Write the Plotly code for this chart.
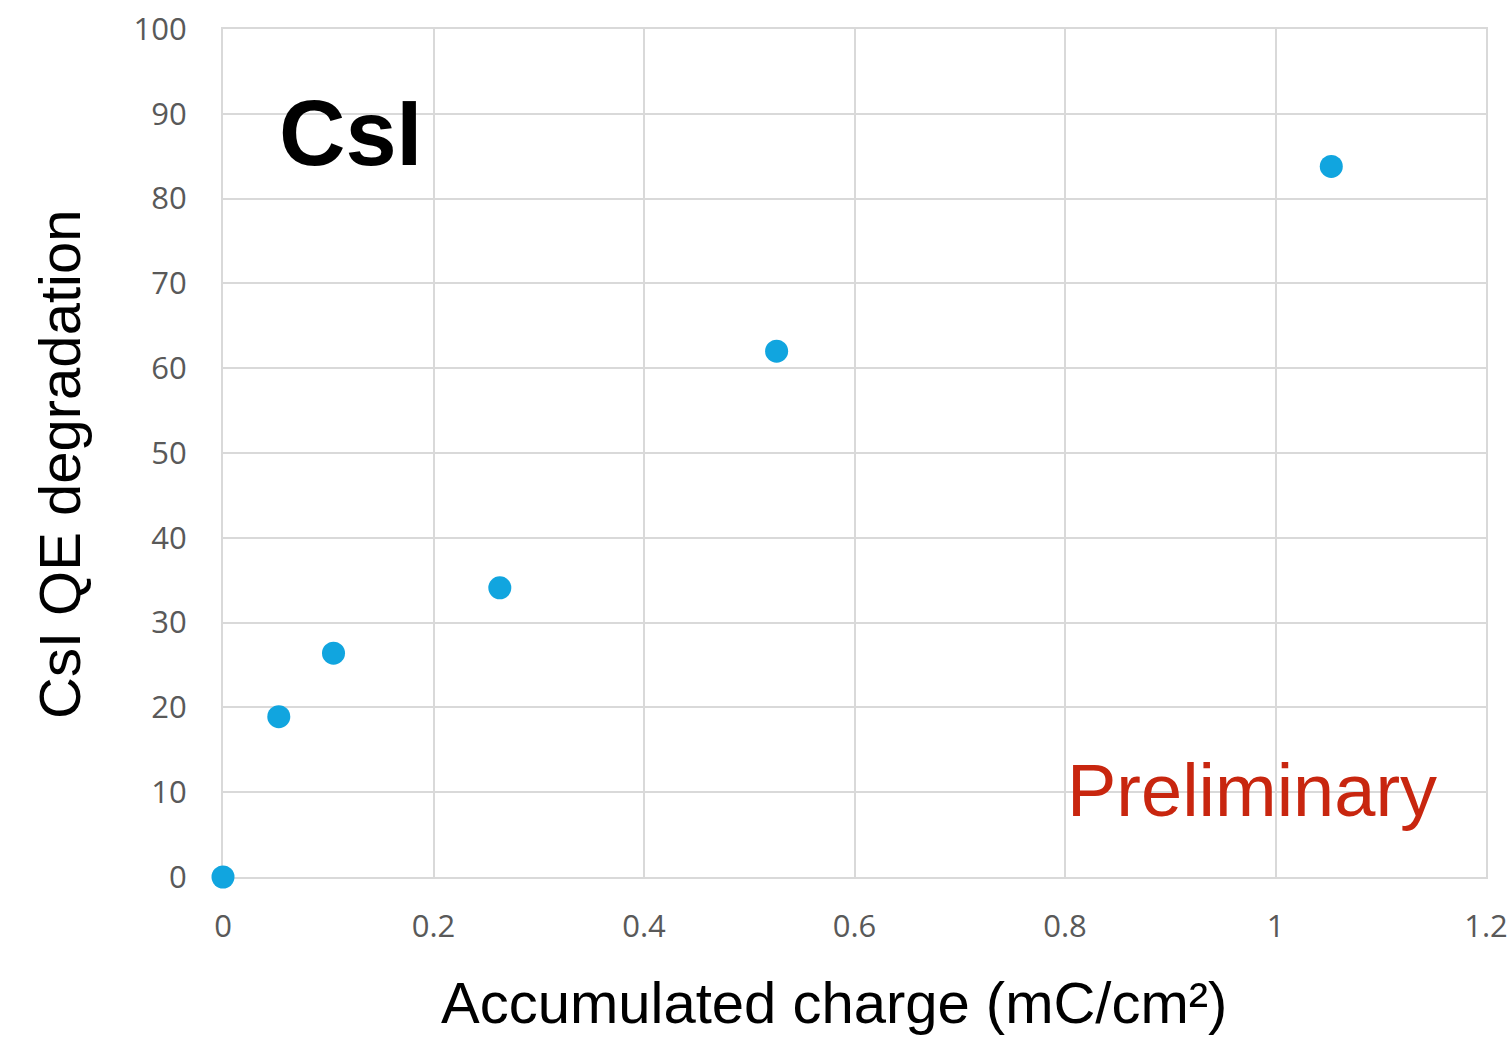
import plotly.graph_objects as go

# Data
charge = [0.0, 0.053, 0.105, 0.263, 0.526, 1.053]
degradation = [0.0, 18.9, 26.4, 34.1, 62.0, 83.8]

x_ticks = [0, 0.2, 0.4, 0.6, 0.8, 1.0, 1.2]
x_ticktext = ["0", "0.2", "0.4", "0.6", "0.8", "1", "1.2"]
y_ticks = [0, 10, 20, 30, 40, 50, 60, 70, 80, 90, 100]

fig = go.Figure()
fig.add_trace(go.Scatter(
    x=charge, y=degradation, mode="markers",
    marker=dict(size=23, color="#11a5df", line=dict(width=0)),
    cliponaxis=False, showlegend=False,
))

grid = "#d9d9d9"
tickfont = dict(family="Open Sans", size=31, color="#595959")

# plot area in page pixels: x 223..1486, y 29..877
PX0, PX1, PY0, PY1 = 223, 1486, 29, 877


def px(x):
    return (x - PX0) / (PX1 - PX0)


def py(y):
    return (PY1 - y) / (PY1 - PY0)


fig.update_layout(
    width=1511, height=1038,
    margin=dict(l=223, r=25, t=29, b=161),
    paper_bgcolor="white", plot_bgcolor="white",
    xaxis=dict(
        range=[0, 1.2], tickvals=x_ticks, ticktext=x_ticktext,
        showgrid=True, gridcolor=grid, gridwidth=2,
        showline=True, linecolor=grid, linewidth=2, mirror=True,
        zeroline=False, ticks="", tickfont=tickfont, automargin=False,
        ticklabelstandoff=21, ticklabeloverflow="allow", layer="below traces",
    ),
    yaxis=dict(
        range=[0, 100], tickvals=y_ticks,
        showgrid=True, gridcolor=grid, gridwidth=2,
        showline=True, linecolor=grid, linewidth=2, mirror=True,
        zeroline=True, zerolinecolor="#c4c4c4", zerolinewidth=2,
        ticks="", tickfont=tickfont, automargin=False,
        ticklabelstandoff=28, ticklabeloverflow="allow", layer="below traces",
    ),
    annotations=[
        dict(text="Accumulated charge (mC/cm²)", xref="paper", yref="paper",
             x=px(834), y=py(1002),
             xanchor="center", yanchor="middle", showarrow=False,
             font=dict(family="Liberation Sans", size=58, color="black")),
        dict(text="CsI QE degradation", xref="paper", yref="paper",
             x=px(60), y=py(465),
             xanchor="center", yanchor="middle", textangle=-90, showarrow=False,
             font=dict(family="Liberation Sans", size=58, color="black")),
        dict(text="<b>CsI</b>", xref="paper", yref="paper",
             x=px(350), y=py(133),
             xanchor="center", yanchor="middle", showarrow=False,
             font=dict(family="Liberation Sans", size=92, color="black")),
        dict(text="Preliminary", xref="paper", yref="paper",
             x=px(1252), y=py(790),
             xanchor="center", yanchor="middle", showarrow=False,
             font=dict(family="Liberation Sans", size=74, color="#c8260f")),
    ],
)

fig.write_html(
    "out.html",
    config={"displayModeBar": False},
    post_script="document.body.style.margin='0px';document.body.style.overflow='hidden';",
)
